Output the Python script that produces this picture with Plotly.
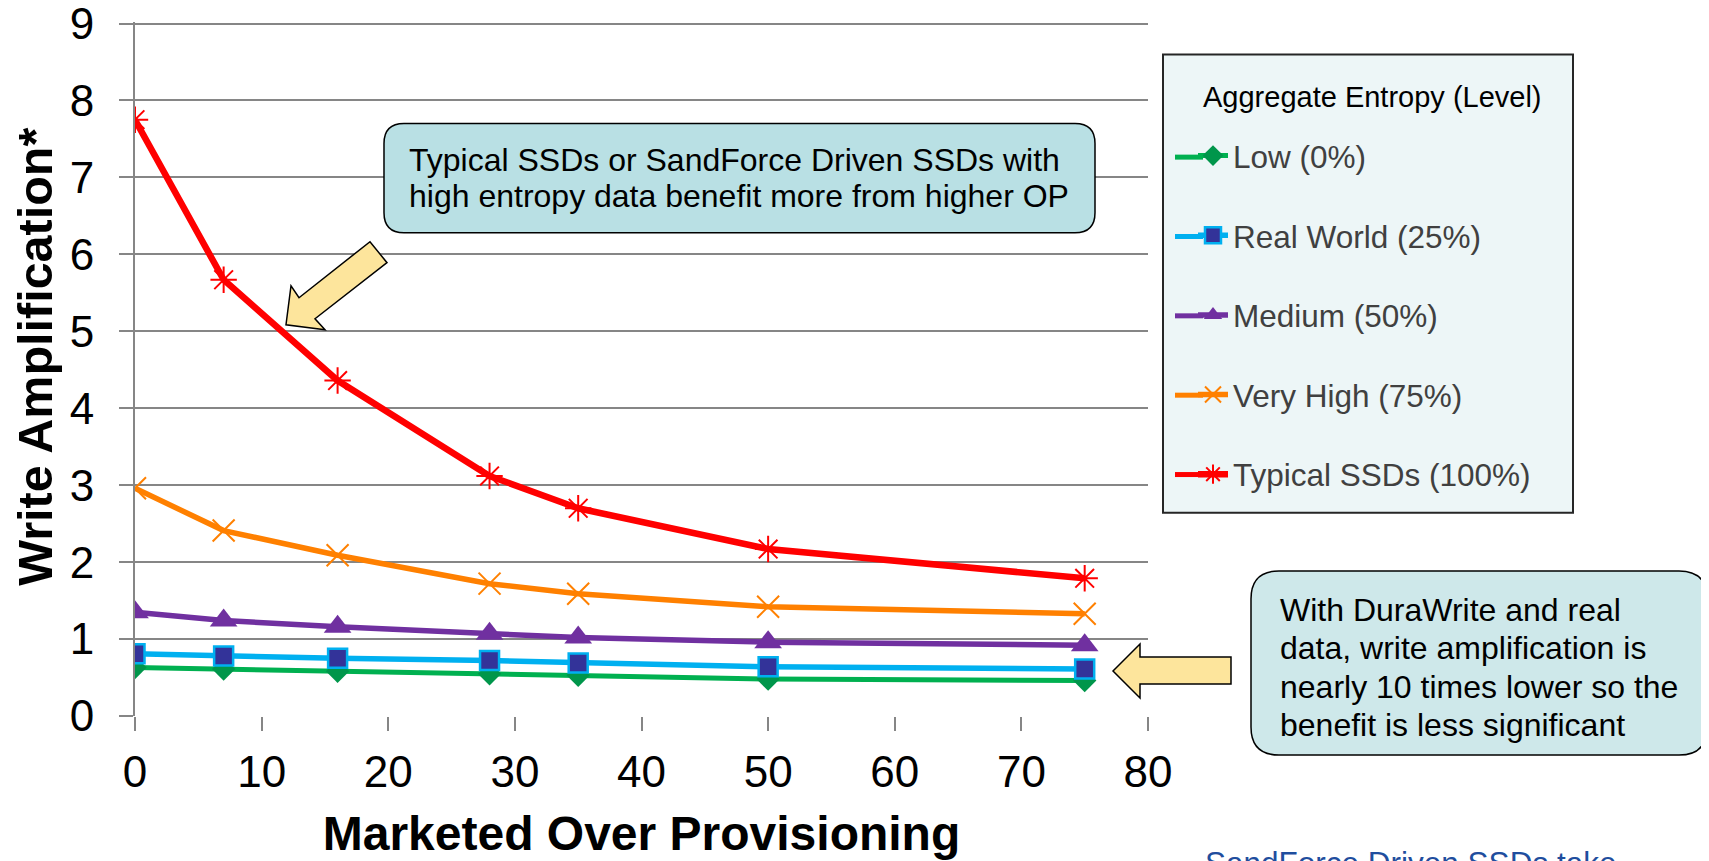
import plotly.graph_objects as go

# ---------------- data ----------------
op_x = [0, 7, 16, 28, 35, 50, 75]
low = [0.63, 0.61, 0.58, 0.55, 0.53, 0.48, 0.46]
real_world = [0.81, 0.78, 0.75, 0.72, 0.69, 0.64, 0.61]
medium = [1.35, 1.24, 1.16, 1.07, 1.02, 0.96, 0.92]
very_high = [2.96, 2.41, 2.09, 1.72, 1.59, 1.42, 1.33]
typical = [7.75, 5.67, 4.36, 3.12, 2.70, 2.17, 1.79]

series_names = ["Low (0%)", "Real World (25%)", "Medium (50%)",
                "Very High (75%)", "Typical SSDs (100%)"]
series_colors = ["#00B050", "#00B0F0", "#7030A0", "#FF8000", "#FF0000"]
legend_title = "Aggregate Entropy (Level)"
x_title = "Marketed Over Provisioning"
y_title = "Write Amplification*"
callout_top = ["Typical SSDs or SandForce Driven SSDs with",
               "high entropy data benefit more from higher OP"]
callout_bottom = ["With DuraWrite and real",
                  "data, write amplification is",
                  "nearly 10 times lower so the",
                  "benefit is less significant"]
footer_text = "SandForce Driven SSDs take"

FONT = "Arial, 'Liberation Sans', sans-serif"
W, H = 1709, 861
OFF = 8                                  # page body margin
Y_MAX = 9.02                             # a hair above 9 so the top gridline is drawn
PL, PR, PB = 135, 1148, 716
PT = PB - (PB - 24) * Y_MAX / 9          # y=9 lands at page pixel 24


def px(x):
    return (x - PL) / (PR - PL)


def py(y):
    return (PB - y) / (PB - PT)


def poly_path(pts):
    s = "M " + " L ".join(f"{px(x):.5f},{py(y):.5f}" for x, y in pts)
    return s + " Z"


def rrect_path(x0, y0, x1, y1, r):
    p = lambda x, y: f"{px(x):.5f},{py(y):.5f}"
    return (f"M {p(x0 + r, y0)} L {p(x1 - r, y0)} Q {p(x1, y0)} {p(x1, y0 + r)} "
            f"L {p(x1, y1 - r)} Q {p(x1, y1)} {p(x1 - r, y1)} "
            f"L {p(x0 + r, y1)} Q {p(x0, y1)} {p(x0, y1 - r)} "
            f"L {p(x0, y0 + r)} Q {p(x0, y0)} {p(x0 + r, y0)} Z")


fig = go.Figure()

styles = [
    dict(line=dict(color=series_colors[0], width=5),
         marker=dict(symbol="diamond", size=18, color="#00964B")),
    dict(line=dict(color=series_colors[1], width=5.5),
         marker=dict(symbol="square", size=19, color="#333399",
                     line=dict(color=series_colors[1], width=2.5))),
    dict(line=dict(color=series_colors[2], width=5.5),
         marker=dict(symbol="triangle-up", size=24, color=series_colors[2])),
    dict(line=dict(color=series_colors[3], width=5.5),
         marker=dict(symbol="x-thin-open", size=22, color=series_colors[3],
                     line=dict(color=series_colors[3], width=2))),
    dict(line=dict(color=series_colors[4], width=6.5),
         marker=dict(symbol="asterisk-open", size=22, color=series_colors[4],
                     line=dict(color=series_colors[4], width=2))),
]
values = [low, real_world, medium, very_high, typical]

for i, (name, ys, st) in enumerate(zip(series_names, values, styles)):
    fig.add_trace(go.Scatter(x=op_x, y=ys, name=name, mode="lines+markers",
                             legendgroup=f"g{i}", **st))

shapes = []
shapes.append(dict(type="rect", xref="paper", yref="paper",
                   x0=px(1163), x1=px(1573), y0=py(513), y1=py(55),
                   fillcolor="#EDF6F7", line=dict(color="#262626", width=2),
                   layer="below"))
# lengthen the legend sample lines to the left (legend symbols are drawn on top)
for i, c in enumerate(series_colors):
    yy = 157.5 + 79.3 * i
    shapes.append(dict(type="line", xref="paper", yref="paper",
                       x0=px(1175), x1=px(1203), y0=py(yy), y1=py(yy),
                       line=dict(color=c, width=5)))
shapes.append(dict(type="path", xref="paper", yref="paper",
                   path=rrect_path(384, 124, 1095, 233, 20),
                   fillcolor="#B9E0E4", line=dict(color="#000000", width=1.5)))
shapes.append(dict(type="path", xref="paper", yref="paper",
                   path=rrect_path(1251, 571, 1707, 755, 28),
                   fillcolor="#CEE8EA", line=dict(color="#000000", width=1.5)))
shapes.append(dict(type="path", xref="paper", yref="paper",
                   path=poly_path([(286, 325), (291, 286), (299, 298), (370, 242),
                                   (387, 263), (315, 319), (325, 330)]),
                   fillcolor="#FDE59C", line=dict(color="#000000", width=1.5)))
shapes.append(dict(type="path", xref="paper", yref="paper",
                   path=poly_path([(1113, 671), (1140, 644), (1140, 657), (1231, 657),
                                   (1231, 684), (1140, 684), (1140, 698)]),
                   fillcolor="#FDE59C", line=dict(color="#000000", width=1.5)))

annotations = []
annotations.append(dict(xref="paper", yref="paper", x=px(35), y=py(357),
                        text=y_title, showarrow=False, textangle=-90,
                        xanchor="center", yanchor="middle",
                        font=dict(family=FONT, size=48.5, color="#000000", weight="bold")))
annotations.append(dict(xref="paper", yref="paper", x=px(1372), y=py(97),
                        text=legend_title, showarrow=False, xanchor="center",
                        yanchor="middle", font=dict(family=FONT, size=29, color="#000000")))
for i, line in enumerate(callout_top):
    annotations.append(dict(xref="paper", yref="paper", x=px(407), y=py(160 + 36 * i),
                            text=line, showarrow=False, xanchor="left", yanchor="middle",
                            font=dict(family=FONT, size=32, color="#000000")))
for i, line in enumerate(callout_bottom):
    annotations.append(dict(xref="paper", yref="paper", x=px(1278), y=py(610 + 38.3 * i),
                            text=line, showarrow=False, xanchor="left", yanchor="middle",
                            font=dict(family=FONT, size=32, color="#000000")))
annotations.append(dict(xref="paper", yref="paper", x=px(1203), y=py(863),
                        text=footer_text, showarrow=False, xanchor="left", yanchor="middle",
                        font=dict(family=FONT, size=31.5, color="#1F4E9E")))

GRID = "#868686"
fig.update_layout(
    width=W - OFF, height=H - OFF,
    margin=dict(l=PL - OFF, r=W - PR, t=PT - OFF, b=H - PB, autoexpand=False),
    paper_bgcolor="white", plot_bgcolor="white",
    font=dict(family=FONT, color="#000000"),
    showlegend=True,
    legend=dict(x=px(1193), y=py(129), xanchor="left", yanchor="top",
                bgcolor="rgba(0,0,0,0)", borderwidth=0,
                traceorder="grouped", tracegroupgap=35.7,
                font=dict(family=FONT, size=31.5, color="#404040"),
                itemsizing="trace"),
    shapes=shapes,
    annotations=annotations,
    xaxis=dict(range=[0, 80], dtick=10, tick0=0, showgrid=False, zeroline=False,
               showline=False, ticks="outside", ticklen=14, tickwidth=2,
               tickcolor=GRID, ticklabelstandoff=3,
               tickfont=dict(family=FONT, size=44, color="#000000"),
               title=dict(text=x_title, standoff=21,
                          font=dict(family=FONT, size=48, color="#000000", weight="bold"))),
    yaxis=dict(range=[0, Y_MAX], dtick=1, tick0=0, showgrid=True, gridcolor=GRID,
               gridwidth=2, zeroline=False, showline=True, linecolor=GRID, linewidth=2,
               ticks="outside", ticklen=14, tickwidth=2, tickcolor=GRID,
               ticklabelstandoff=16, ticklabeloverflow="allow",
               tickfont=dict(family=FONT, size=44, color="#000000")),
)

fig.write_html("out.html")
